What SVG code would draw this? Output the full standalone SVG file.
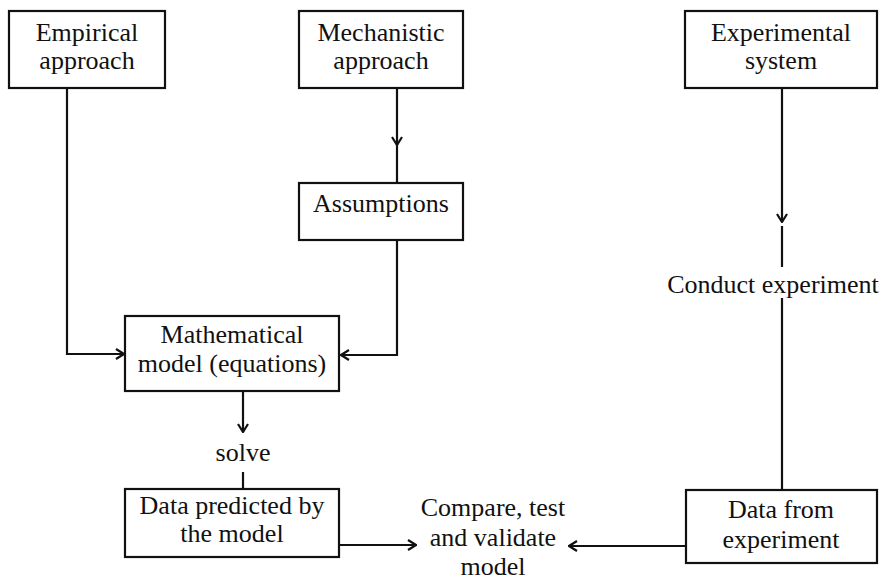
<svg xmlns="http://www.w3.org/2000/svg" width="884" height="580" viewBox="0 0 884 580">
  <defs>
    <style>
      .box { fill: #fff; stroke: #111; stroke-width: 2.2; }
      .line { fill: none; stroke: #111; stroke-width: 2.2; }
      .head { fill: none; stroke: #111; stroke-width: 2.2; stroke-linejoin: miter; }
      text { font-family: "Liberation Serif", "Times New Roman", serif; font-size: 26px; fill: #111; text-anchor: middle; }
    </style>
    <!-- open chevron arrowhead, tip at the path end -->
    <marker id="vee" viewBox="0 0 12 12" refX="11" refY="6" markerWidth="12" markerHeight="12" markerUnits="userSpaceOnUse" orient="auto">
      <path d="M3,1 L11,6 L3,11" fill="none" stroke="#111" stroke-width="2.2"/>
    </marker>
  </defs>

  <rect width="884" height="580" fill="#fff"/>

  <!-- connectors -->
  <g id="connectors">
    <!-- empirical approach to model -->
    <path class="line" d="M67,88 V354 H124" marker-end="url(#vee)"/>
    <!-- mechanistic approach to assumptions (arrowhead midway) -->
    <path class="line" d="M397,88 V145" marker-end="url(#vee)"/>
    <path class="line" d="M397,144 V183"/>
    <!-- assumptions to model -->
    <path class="line" d="M397,240 V355 H341" marker-end="url(#vee)"/>
    <!-- model to solve -->
    <path class="line" d="M243,391 V432" marker-end="url(#vee)"/>
    <path class="line" d="M243,472 V489"/>
    <!-- predicted data to comparison -->
    <path class="line" d="M339,545 H416" marker-end="url(#vee)"/>
    <!-- experimental system to experiment -->
    <path class="line" d="M782,88 V222" marker-end="url(#vee)"/>
    <path class="line" d="M782,226 V267"/>
    <path class="line" d="M782,298 V490"/>
    <!-- experimental data to comparison -->
    <path class="line" d="M686,546 H569" marker-end="url(#vee)"/>
  </g>

  <g id="empirical">
    <rect class="box" x="9" y="11" width="156" height="77"/>
    <text x="87" y="41">Empirical</text>
    <text x="87" y="69">approach</text>
  </g>

  <g id="mechanistic">
    <rect class="box" x="299" y="11" width="164" height="77"/>
    <text x="381" y="41">Mechanistic</text>
    <text x="381" y="69">approach</text>
  </g>

  <g id="assumptions">
    <rect class="box" x="299" y="183" width="164" height="57"/>
    <text x="381" y="212">Assumptions</text>
  </g>

  <g id="experimental">
    <rect class="box" x="685" y="11" width="192" height="77"/>
    <text x="781" y="41">Experimental</text>
    <text x="781" y="69">system</text>
  </g>

  <g id="model">
    <rect class="box" x="125" y="316" width="214" height="75"/>
    <text x="232" y="343">Mathematical</text>
    <text x="232" y="372">model (equations)</text>
  </g>

  <g id="solve">
    <text x="243" y="461">solve</text>
  </g>

  <g id="conduct">
    <text x="773" y="293">Conduct experiment</text>
  </g>

  <g id="predicted">
    <rect class="box" x="125" y="489" width="214" height="68"/>
    <text x="232" y="514">Data predicted by</text>
    <text x="232" y="542">the model</text>
  </g>

  <g id="compare">
    <text x="493" y="516">Compare, test</text>
    <text x="493" y="546">and validate</text>
    <text x="493" y="575">model</text>
  </g>

  <g id="measured">
    <rect class="box" x="686" y="490" width="191" height="73"/>
    <text x="781" y="518">Data from</text>
    <text x="781" y="548">experiment</text>
  </g>
</svg>
